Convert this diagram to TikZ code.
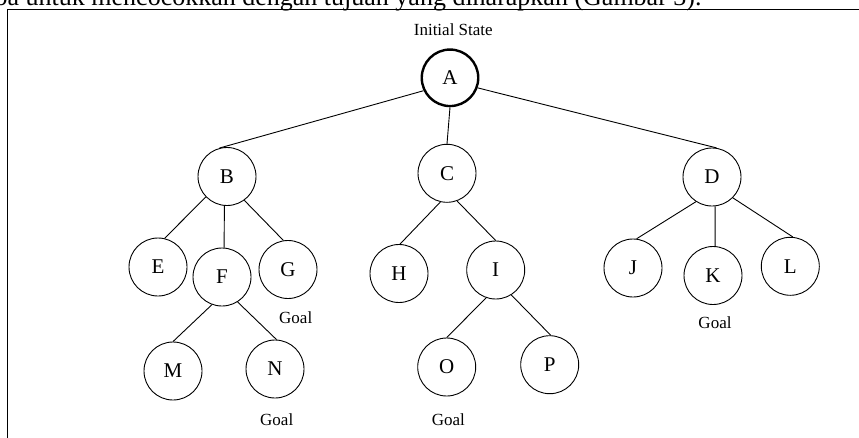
\documentclass[tikz,border=0pt]{standalone}
\usepackage{fontspec}
\setmainfont{Liberation Serif}
\begin{document}
\begin{tikzpicture}[x=1pt,y=-1pt,
  state/.style={circle,draw,line width=0.9pt,minimum size=58pt,inner sep=0pt,
                font=\fontsize{21}{21}\selectfont},
  start/.style={state,line width=2.4pt,minimum size=56.5pt},
  note/.style={font=\fontsize{17}{17}\selectfont,anchor=base,inner sep=0pt},
  link/.style={line width=0.9pt}]
\useasboundingbox (0,0) rectangle (859,437);
\clip (0,0) rectangle (859,437);

% running text of the page above the figure
\node[anchor=base west,inner sep=0pt,font=\fontsize{26}{26}\selectfont] (para) at (-5.5,5.7)
  {ba untuk mencocokkan dengan tujuan yang diharapkan (Gambar 3).};

% figure frame
\draw[line width=0.9pt] (7.5,900) -- (7.5,9) -- (900,9);

% search tree
\node[start] (A) at (450,77.8) {A};
\node[state] (B) at (227,176.5) {B};
\node[state] (C) at (447,173.3) {C};
\node[state] (D) at (712,177) {D};
\node[state] (E) at (158,267) {E};
\node[state] (F) at (222,277) {F};
\node[state] (G) at (288,269.5) {G};
\node[state] (H) at (399,273.5) {H};
\node[state] (I) at (495.7,270) {I};
\node[state] (J) at (633,268) {J};
\node[state] (K) at (713,275.5) {K};
\node[state] (L) at (790.3,266.3) {L};
\node[state] (M) at (173,371) {M};
\node[state] (N) at (275,369) {N};
\node[state] (O) at (446.7,367) {O};
\node[state] (P) at (549.7,364.7) {P};

% labels
\node[note] (init) at (453.3,35) {Initial State};
\node[note] (goalG) at (295.7,323) {Goal};
\node[note] (goalK) at (715,328) {Goal};
\node[note] (goalN) at (276.7,425) {Goal};
\node[note] (goalO) at (448.3,425) {Goal};

% branches
\draw[link] (A.206) -- (B.105);
\draw[link] (A.270) -- (C.90);
\draw[link] (A.340) -- (D.81);
\draw[link] (B.224) -- (E.77);
\draw[link] (B.265) -- (F.86);
\draw[link] (B.306) -- (G.99);
\draw[link] (C.257) -- (H.88);
\draw[link] (C.290) -- (I.90);
\draw[link] (D.237) -- (J.83);
\draw[link] (D.276) -- (K.86);
\draw[link] (D.315) -- (L.85);
\draw[link] (F.250) -- (M.90);
\draw[link] (F.302) -- (N.87);
\draw[link] (I.251) -- (O.90);
\draw[link] (I.302) -- (P.88);
\end{tikzpicture}
\end{document}
